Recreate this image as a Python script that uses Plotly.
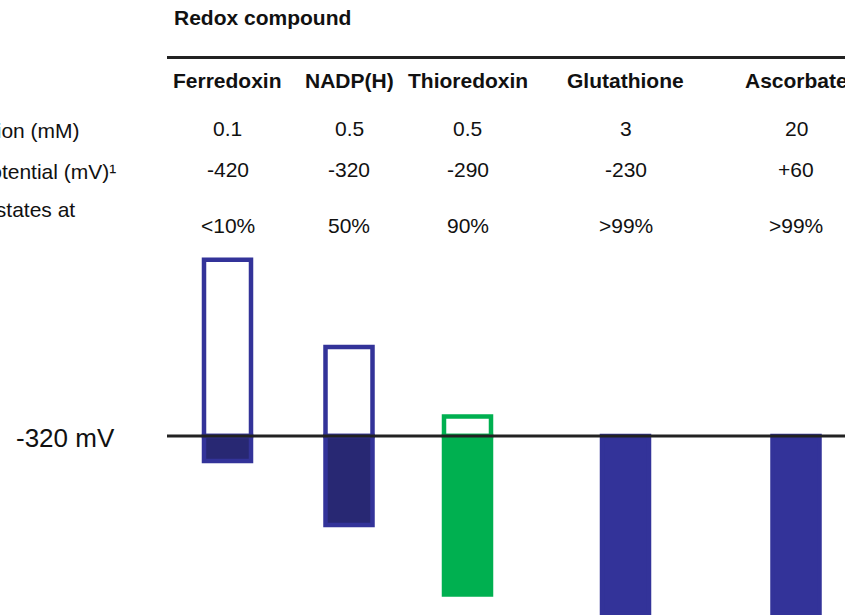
import plotly.graph_objects as go

# ---- data ----
compounds = ["Ferredoxin", "NADP(H)", "Thioredoxin", "Glutathione", "Ascorbate"]
concentration_mM = ["0.1", "0.5", "0.5", "3", "20"]
midpoint_mV = ["-420", "-320", "-290", "-230", "+60"]
reduced_pct = ["<10%", "50%", "90%", ">99%", ">99%"]
# relative bar extents above (oxidized) and below (reduced) the -320 mV line
oxidized_part = [99, 50, 11, 0, 0]
reduced_part = [14, 50, 89, 100, 100]
row_labels = ["Concentration (mM)", "Redox potential (mV)¹", "Proportion of reduced states at"]
ref_label = "-320 mV"

# ---- layout constants ----
W, H = 845, 615
col_x = [227.5, 349, 467.5, 625.5, 796]
zero_px = 436
px_per_unit = 1.78
BLUE = "#333399"
NAVY = "#282873"
GREEN = "#00b050"
FONT = "Liberation Sans, Arial, Helvetica, sans-serif"

fill_red = [NAVY, NAVY, GREEN, BLUE, BLUE]
edge = [BLUE, BLUE, GREEN, BLUE, BLUE]

y_top = zero_px / px_per_unit
y_bot = -(H - zero_px) / px_per_unit

fig = go.Figure()
fig.add_trace(go.Bar(
    x=col_x, y=[v if v > 0 else None for v in oxidized_part], width=47,
    marker=dict(color="white", line=dict(color=edge, width=4.5)),
    hoverinfo="skip", showlegend=False))
fig.add_trace(go.Bar(
    x=col_x, y=[-v for v in reduced_part], width=47,
    marker=dict(color=fill_red, line=dict(color=edge, width=4.5)),
    hoverinfo="skip", showlegend=False))

# reference line at -320 mV
fig.add_shape(type="line", xref="x", yref="y", x0=167, x1=W, y0=0, y1=0,
              line=dict(color="#222222", width=3))
# table rule
fig.add_shape(type="line", xref="x", yref="paper", x0=167, x1=W,
              y0=1 - 57.5 / H, y1=1 - 57.5 / H, line=dict(color="#222222", width=3))

def ann(text, x, ypx, size=21, bold=False, anchor="center"):
    fig.add_annotation(
        text=f"<b>{text}</b>" if bold else text, x=x, y=1 - ypx / H,
        xref="x", yref="paper", xanchor=anchor, yanchor="middle",
        showarrow=False, font=dict(family=FONT, size=size, color="#111111"))

ann("Redox compound", 172, 17.5, bold=True, anchor="left")
for i, c in enumerate(compounds):
    ann(c, col_x[i], 80, bold=True)
    ann(concentration_mM[i], col_x[i], 128.5)
    ann(midpoint_mV[i], col_x[i], 170)
    ann(reduced_pct[i], col_x[i], 225)

ann(row_labels[0], 82, 130, anchor="right")
ann(row_labels[1], 118, 171, anchor="right")
ann(row_labels[2], 77, 209, anchor="right")
ann(ref_label, 65, 438, size=26)

fig.update_layout(
    width=W, height=H, margin=dict(l=0, r=0, t=0, b=0),
    barmode="relative", plot_bgcolor="white", paper_bgcolor="white",
    xaxis=dict(range=[0, W], visible=False, fixedrange=True),
    yaxis=dict(range=[y_bot, y_top], visible=False, fixedrange=True),
    showlegend=False,
)

fig.write_html(
    "out.html",
    config={"displayModeBar": False},
    post_script="document.body.style.margin='0';document.body.style.overflow='hidden';",
)
